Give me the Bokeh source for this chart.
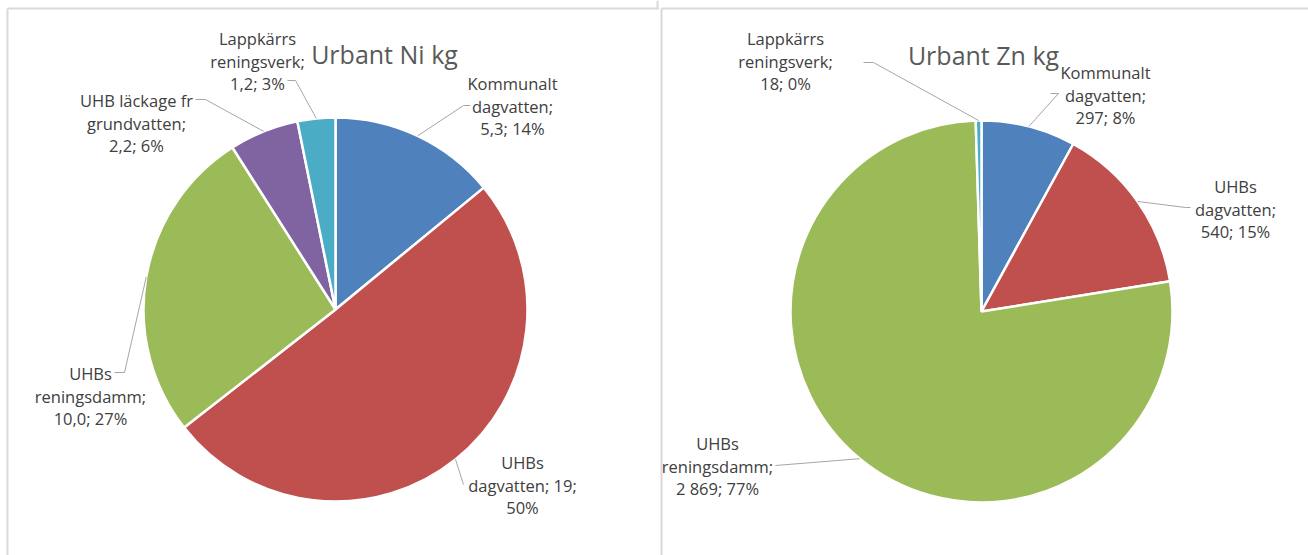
import math
from bokeh.plotting import figure
from bokeh.models import Range1d
from bokeh.layouts import row
from bokeh.embed import file_html
from bokeh.resources import INLINE
from bokeh.core.properties import value

# ---------------- data ----------------
ni_title = "Urbant Ni kg"
ni_categories = ["Kommunalt dagvatten", "UHBs dagvatten", "UHBs reningsdamm",
                 "UHB läckage fr grundvatten", "Lappkärrs reningsverk"]
ni_values = [5.3, 19, 10.0, 2.2, 1.2]
ni_value_labels = ["5,3", "19", "10,0", "2,2", "1,2"]

zn_title = "Urbant Zn kg"
zn_categories = ["Kommunalt dagvatten", "UHBs dagvatten", "UHBs reningsdamm",
                 "Lappkärrs reningsverk"]
zn_values = [297, 540, 2869, 18]
zn_value_labels = ["297", "540", "2 869", "18"]

# ---------------- style / layout ----------------
BLUE, RED, GREEN, PURPLE, TEAL = "#4F81BD", "#C0504D", "#9BBB59", "#8064A2", "#4BACC6"
ni_colors = [BLUE, RED, GREEN, PURPLE, TEAL]
zn_colors = [BLUE, RED, GREEN, TEAL]

FONT = value("Open Sans")
LABEL_SIZE = "16.5px"
LINE_H = 22.5
H = 555
BORDER = "#d9d9d9"

# label layout: (center x, first baseline y, words per line, leader knee points) in screen px
ni_label_layout = [
    (512, 83, [1, 1, 2], [(463, 105), (470, 105)]),
    (522, 462, [1, 2, 1], [(463, 484)]),
    (90, 373, [1, 1, 2], [(124, 372), (114, 372)]),
    (136, 100, [3, 1, 2], [(205, 99), (195, 99)]),
    (257, 38, [1, 1, 2], [(295, 80), (287, 80)]),
]
zn_label_layout = [
    (1105, 72, [1, 1, 2], [(1058, 93), (1050, 93)]),
    (1235, 186, [1, 1, 2], [(1185, 207), (1190, 207)]),
    (717, 443, [1, 1, 2], [(775, 465)]),
    (785, 38, [1, 1, 2], [(873, 62), (863, 62)]),
]


def make_pie(x0, w, left_border, title, title_xy, center, radius, cats, vals,
             vlabels, colors, layout):
    p = figure(width=w, height=H, x_range=Range1d(x0, x0 + w),
               y_range=Range1d(-H, 0),
               output_backend="svg", toolbar_location=None, min_border=0,
               x_axis_location=None, y_axis_location=None,
               outline_line_color=None, background_fill_color="white",
               border_fill_color="white")
    p.grid.visible = False

    # chart-area borders
    p.segment(x0=[left_border, left_border], y0=[-8, -8],
              x1=[left_border, x0 + w], y1=[-H, -8],
              line_color=BORDER, line_width=2)

    cx, cy = center
    total = float(sum(vals))
    fracs = [v / total for v in vals]
    starts, ends, mids = [], [], []
    c = 0.0
    for f in fracs:
        starts.append(math.pi / 2 - 2 * math.pi * c)
        ends.append(math.pi / 2 - 2 * math.pi * (c + f))
        mids.append(2 * math.pi * (c + f / 2))
        c += f

    p.wedge(x=[cx] * len(vals), y=[-cy] * len(vals), radius=radius,
            start_angle=starts, end_angle=ends, direction="clock",
            fill_color=colors, line_color="white", line_width=2.5)

    # leader lines
    xs, ys = [], []
    for m, (lx, ly, counts, knees) in zip(mids, layout):
        px = cx + radius * math.sin(m)
        py = cy - radius * math.cos(m)
        xs.append([px] + [k[0] for k in knees])
        ys.append([-py] + [-k[1] for k in knees])
    p.multi_line(xs=xs, ys=ys, line_color="#a6a6a6", line_width=1)

    # labels
    tx, ty, tt = [], [], []
    for cat, vl, f, (lx, ly, counts, knees) in zip(cats, vlabels, fracs, layout):
        tokens = cat.split()
        tokens[-1] = tokens[-1] + ";"
        tokens += [vl + ";", "%d%%" % int(round(100 * f + 1e-9))]
        i = 0
        for li, n in enumerate(counts):
            tt.append(" ".join(tokens[i:i + n]))
            i += n
            tx.append(lx)
            ty.append(-(ly + li * LINE_H))
    p.text(x=tx, y=ty, text=tt, text_align="center", text_baseline="alphabetic",
           text_font=FONT, text_font_size=LABEL_SIZE, text_color="#404040")

    # title
    p.text(x=[title_xy[0]], y=[-title_xy[1]], text=[title], text_align="center",
           text_baseline="alphabetic", text_font=FONT, text_font_size="25px",
           text_color="#595959")
    return p


p1 = make_pie(0, 659, 7, ni_title, (384, 53), (335, 309), 192,
              ni_categories, ni_values, ni_value_labels, ni_colors, ni_label_layout)
# small edge of the neighbouring area at the top
p1.segment(x0=[657], y0=[0], x1=[657], y1=[-8], line_color=BORDER, line_width=2)

p2 = make_pie(659, 1308 - 659, 661, zn_title, (983, 54), (981, 311), 191,
              zn_categories, zn_values, zn_value_labels, zn_colors, zn_label_layout)

layout = row(p1, p2)
open("out.html", "w").write(file_html(layout, INLINE))
